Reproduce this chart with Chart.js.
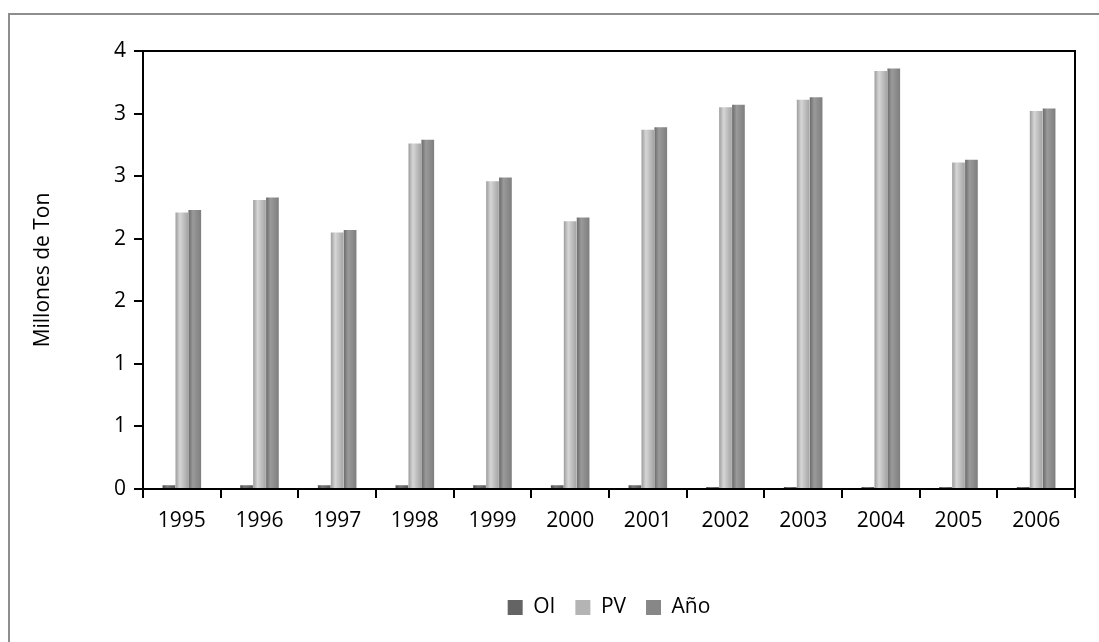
<!DOCTYPE html>
<html>
<head>
<meta charset="utf-8">
<script src="https://cdn.jsdelivr.net/npm/chart.js@4/dist/chart.umd.min.js"></script>
<style>
  html, body { margin: 0; padding: 0; background: #fff; overflow: hidden; }
  #frame { position: absolute; left: 8px; top: 13px; width: 1200px; height: 700px;
           border-left: 2px solid #8e8e8e; border-top: 2px solid #8e8e8e; }
  #wrap { position: absolute; left: 0; top: 0; width: 1099px; height: 642px; }
</style>
</head>
<body>
<div id="frame"></div>
<div id="wrap"><canvas id="myChart" width="1099" height="642"></canvas></div>
<script>
'use strict';
// data
let years = ['1995', '1996', '1997', '1998', '1999', '2000', '2001', '2002', '2003', '2004', '2005', '2006'];
let oiValues = [0.03, 0.03, 0.03, 0.03, 0.03, 0.03, 0.03, 0.015, 0.015, 0.015, 0.015, 0.015];
let pvValues = [2.21, 2.31, 2.05, 2.76, 2.46, 2.14, 2.87, 3.05, 3.11, 3.34, 2.61, 3.02];
let anoValues = [2.23, 2.33, 2.07, 2.79, 2.49, 2.17, 2.89, 3.07, 3.13, 3.36, 2.63, 3.04];
let yTickLabels = ['0', '1', '1', '2', '2', '3', '3', '4'];
let seriesNames = ['OI', 'PV', 'Año'];
let seriesColors = ['#646464', '#b4b4b4', '#878787'];

// cylinder shading, left to right
let shades = [
  ['#4e4e4e', '#7a7a7a', '#5a5a5a'],
  ['#9c9c9c', '#d6d6d6', '#a4a4a4'],
  ['#6a6a6a', '#9a9a9a', '#7e7e7e']
];

function barFill( ctx ) {
  let i = ctx.datasetIndex;
  let el = ctx.element;
  if ( !el || !el.width ) {
    return seriesColors[i];
  }
  let c = ctx.chart.ctx;
  let g = c.createLinearGradient( el.x - el.width / 2, 0, el.x + el.width / 2, 0 );
  g.addColorStop( 0, shades[i][0] );
  g.addColorStop( 0.35, shades[i][1] );
  g.addColorStop( 1, shades[i][2] );
  return g;
}

const fontFam = '"Open Sans", "Liberation Sans", sans-serif';
Chart.defaults.font.family = fontFam;
Chart.defaults.color = '#000';

let ctx = document.getElementById( 'myChart' ).getContext( '2d' );
let myChart = new Chart( ctx, {
  type: 'bar',
  data: {
    labels: years,
    datasets: [
      { label: seriesNames[0], data: oiValues, backgroundColor: barFill, minBarLength: 2 },
      { label: seriesNames[1], data: pvValues, backgroundColor: barFill },
      { label: seriesNames[2], data: anoValues, backgroundColor: barFill }
    ]
  },
  options: {
    responsive: false,
    animation: false,
    devicePixelRatio: 1,
    layout: { padding: { top: 43, right: 24, bottom: 14, left: 0 } },
    datasets: {
      bar: { categoryPercentage: 0.5, barPercentage: 0.98 }
    },
    plugins: {
      tooltip: { enabled: false },
      legend: {
        position: 'bottom',
        fullSize: false,
        labels: {
          font: { size: 21 },
          boxWidth: 15,
          boxHeight: 15,
          padding: 20,
          generateLabels: function() {
            return seriesNames.map( function( n, i ) {
              return { text: n, fillStyle: seriesColors[i], strokeStyle: seriesColors[i], lineWidth: 0, datasetIndex: i };
            } );
          }
        }
      }
    },
    scales: {
      x: {
        grid: { drawOnChartArea: false, offset: true, color: '#000', lineWidth: 2, tickLength: 9 },
        border: { color: '#000', width: 2 },
        ticks: { font: { size: 21 }, padding: 10, maxRotation: 0 },
        afterFit: function( axis ) { axis.height = 88; }
      },
      xTop: {
        position: 'top',
        grid: { display: false },
        ticks: { display: false },
        border: { color: '#000', width: 2 }
      },
      y: {
        min: 0,
        max: 3.5,
        ticks: {
          stepSize: 0.5,
          font: { size: 21 },
          padding: 8,
          callback: function( value, index ) { return yTickLabels[index]; }
        },
        grid: { drawOnChartArea: false, color: '#000', lineWidth: 2, tickLength: 9 },
        border: { color: '#000', width: 2 },
        title: { display: true, text: 'Millones de Ton', font: { size: 21 }, padding: { top: 30, bottom: 20 } },
        afterFit: function( axis ) { axis.width = 143; }
      },
      yRight: {
        position: 'right',
        min: 0,
        max: 3.5,
        grid: { display: false },
        ticks: { display: false },
        border: { color: '#000', width: 2 },
        afterFit: function( axis ) { axis.width = 0; }
      }
    }
  }
} );
// second pass so the bar gradients know where each bar sits
myChart.update( 'none' );
</script>
</body>
</html>
